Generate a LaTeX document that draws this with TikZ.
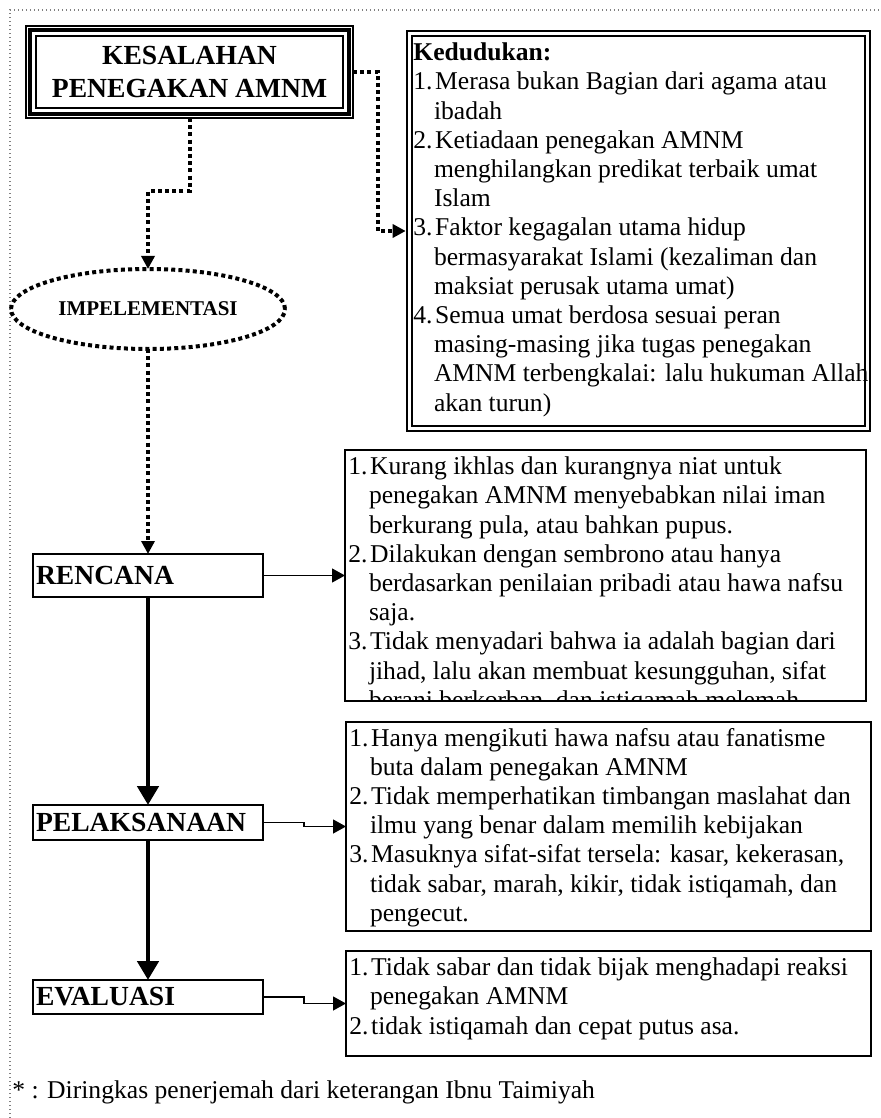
\documentclass[tikz,border=0pt]{standalone}
\usepackage{fontspec}
\setmainfont{Liberation Serif}
\usetikzlibrary{arrows.meta}
\usetikzlibrary{shapes.geometric}

\tikzset{
  titik/.style={line width=2pt, dash pattern=on 2pt off 1.6pt},
  tipis/.style={line width=0.6pt},
  kotakket/.style={draw, line width=0.6pt, inner sep=0pt, outer sep=0pt},
  judulkotak/.style={draw, line width=0.8pt, inner xsep=1.5pt, inner ysep=0pt, outer sep=0pt,
    text width=112pt, align=left, font=\fontsize{13.8pt}{16pt}\selectfont\bfseries},
  isi/.style={inner sep=0pt, align=left, anchor=north west, font=\fontsize{12.8pt}{14.6pt}\selectfont},
}
\newcommand{\ind}{\hspace*{10.3pt}}
\newcommand{\butir}[1]{#1.\hspace{1.3pt}}

\begin{document}
\begin{tikzpicture}[x=0.5pt,y=-0.5pt]
\def\pj{6.5pt}
\def\pl{7pt}
\useasboundingbox (0,0) rectangle (880,1118);

% bingkai luar
\draw[gray, line width=0.7pt, dash pattern=on 0.7pt off 1.3pt] (10,1118) -- (10,10) -- (880,10);

% judul
\node [draw, line width=1.8pt, outer sep=0pt, minimum width=159.5pt, minimum height=42pt, align=center,
  font=\fontsize{13.8pt}{16.3pt}\selectfont\bfseries] (judul) at (189.5,72) {KESALAHAN\\PENEGAKAN AMNM};
\draw [line width=0.6pt] ([shift={(-4,-4)}]judul.north west) rectangle ([shift={(4,4)}]judul.south east);
\draw [line width=0.6pt] ([shift={(6,6)}]judul.north west) rectangle ([shift={(-6,-6)}]judul.south east);

% kedudukan
\node [draw, line width=1.3pt, outer sep=0pt, minimum width=231.5pt, minimum height=200pt] (kedudukan) at (638.5,231) {};
\draw [line width=0.6pt] ([shift={(5,5)}]kedudukan.north west) rectangle ([shift={(-5,-5)}]kedudukan.south east);
\node [isi] (isi0) at (413,42.6) {\textbf{Kedudukan:}\\
\butir{1}Merasa bukan Bagian dari agama atau\\
\ind ibadah\\
\butir{2}Ketiadaan penegakan AMNM\\
\ind menghilangkan predikat terbaik umat\\
\ind Islam\\
\butir{3}Faktor kegagalan utama hidup\\
\ind bermasyarakat Islami (kezaliman dan\\
\ind maksiat perusak utama umat)\\
\butir{4}Semua umat berdosa sesuai peran\\
\ind masing-masing jika tugas penegakan\\
\ind AMNM terbengkalai: lalu hukuman Allah\\
\ind akan turun)};

% implementasi
\node [ellipse, draw, titik, minimum width=137pt, minimum height=40pt, inner sep=0pt, outer sep=0pt,
  font=\fontsize{10.5pt}{12pt}\selectfont\bfseries] (impl) at (148,309) {IMPELEMENTASI};

% tahapan
\node [judulkotak, anchor=north west, minimum height=21.5pt] (rencana) at (33,554) {RENCANA};
\node [judulkotak, anchor=north west, minimum height=17.5pt] (pelaks) at (33,805) {PELAKSANAAN};
\node [judulkotak, anchor=north west, minimum height=17pt] (evaluasi) at (33,980) {EVALUASI};

% keterangan
\node [kotakket, minimum width=260.5pt, minimum height=125.5pt] (ket1) at (605.5,575.5) {};
\node [kotakket, minimum width=262.5pt, minimum height=104.5pt] (ket2) at (608.5,826.5) {};
\node [kotakket, minimum width=262.5pt, minimum height=52.5pt] (ket3) at (608.5,1003.5) {};

\begin{scope}
\clip (ket1.north west) rectangle (ket1.south east);
\node [isi] (isi1) at (348,456.6) {\butir{1}Kurang ikhlas dan kurangnya niat untuk\\
\ind penegakan AMNM menyebabkan nilai iman\\
\ind berkurang pula, atau bahkan pupus.\\
\butir{2}Dilakukan dengan sembrono atau hanya\\
\ind berdasarkan penilaian pribadi atau hawa nafsu\\
\ind saja.\\
\butir{3}Tidak menyadari bahwa ia adalah bagian dari\\
\ind jihad, lalu akan membuat kesungguhan, sifat\\
\ind berani berkorban, dan istiqamah melemah.};
\end{scope}

\node [isi] (isi2) at (349,727.6) {\butir{1}Hanya mengikuti hawa nafsu atau fanatisme\\
\ind buta dalam penegakan AMNM\\
\butir{2}Tidak memperhatikan timbangan maslahat dan\\
\ind ilmu yang benar dalam memilih kebijakan\\
\butir{3}Masuknya sifat-sifat tersela: kasar, kekerasan,\\
\ind tidak sabar, marah, kikir, tidak istiqamah, dan\\
\ind pengecut.};

\node [isi] (isi3) at (349,957.6) {\butir{1}Tidak sabar dan tidak bijak menghadapi reaksi\\
\ind penegakan AMNM\\
\butir{2}tidak istiqamah dan cepat putus asa.};

% catatan
\node [anchor=base west, inner sep=0pt, font=\fontsize{12.8pt}{14.6pt}\selectfont] (catatan) at (12,1098)
  {* : Diringkas penerjemah dari keterangan Ibnu Taimiyah};

% panah
\draw [titik, -{Triangle[length=\pj, width=\pj]}] ([yshift=-2pt]judul.south) -- ++(0,73) -| (impl.north);
\draw [titik, -{Triangle[length=\pj, width=\pj]}] ([xshift=2pt]judul.east) -- ++(25,0) |- ([xshift=-0.65pt]kedudukan.west);
\draw [titik, -{Triangle[length=\pj, width=\pj]}] (impl.south) -- (rencana.north);
\draw [line width=2.4pt, -{Triangle[length=9.5pt, width=10.5pt]}] (rencana.south) -- (pelaks.north);
\draw [line width=2.4pt, -{Triangle[length=9.5pt, width=10.5pt]}] (pelaks.south) -- (evaluasi.north);
\draw [tipis, -{Triangle[length=\pj, width=\pl]}] (rencana.east) -- (ket1.west);
\draw [tipis, -{Triangle[length=\pj, width=\pl]}] (pelaks.east) -- ++(41,0) |- (ket2.west);
\draw [tipis, -{Triangle[length=\pj, width=\pl]}] (evaluasi.east) -- ++(41,0) |- (ket3.west);
\end{tikzpicture}
\end{document}
